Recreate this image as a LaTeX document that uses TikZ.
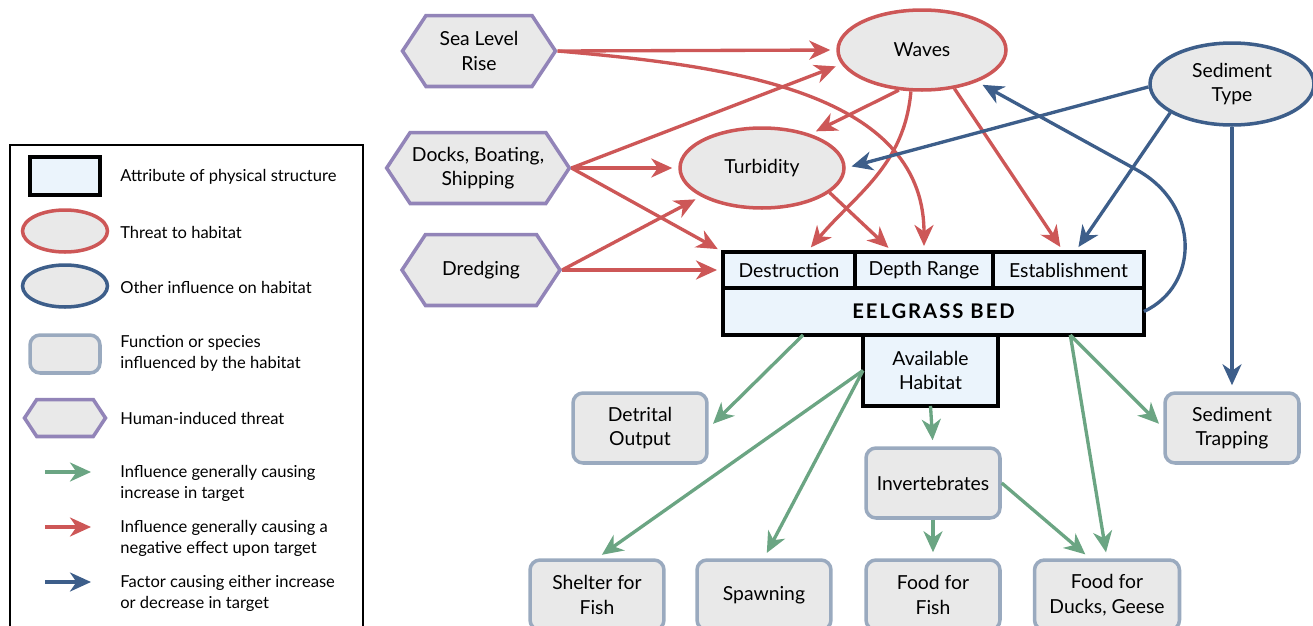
\documentclass[tikz,border=0pt]{standalone}
\usepackage{fontspec}
\setmainfont{Lato}
\usetikzlibrary{positioning, arrows.meta, calc, shapes.geometric, shapes.symbols}

\definecolor{threatred}{HTML}{CD5757}
\definecolor{otherblue}{HTML}{3D5E8A}
\definecolor{gaingreen}{HTML}{6BA583}
\definecolor{humanpurple}{HTML}{9284B8}
\definecolor{nodegray}{HTML}{E9E9E9}
\definecolor{attrblue}{HTML}{EBF4FC}
\definecolor{funcedge}{HTML}{9AAABF}

\newcommand{\labelfont}{\fontsize{11}{14}\selectfont}
\newcommand{\keyfont}{\fontsize{9.4}{12}\selectfont}
\newcommand{\bedfont}{\fontsize{11.5}{14}\selectfont\bfseries\addfontfeatures{LetterSpace=10}}

\tikzset{
  threat/.style={ellipse, draw=threatred, line width=2pt, fill=nodegray,
    minimum width=33.6mm, minimum height=16mm, align=center, font=\labelfont},
  other/.style={threat, draw=otherblue, minimum width=32.8mm, minimum height=16.4mm},
  human/.style={signal, signal to=east and west, signal pointer angle=113,
    draw=humanpurple, line width=2pt, fill=nodegray, minimum height=14.2mm,
    inner sep=1pt, align=center, font=\labelfont},
  attr/.style={rectangle, draw=black, line width=2.3pt, fill=attrblue,
    minimum height=7.2mm, inner sep=1pt, outer sep=0pt, align=center, font=\labelfont},
  func/.style={rectangle, rounded corners=2mm, draw=funcedge, line width=2pt,
    fill=nodegray, minimum width=26.8mm, minimum height=14mm, align=center, font=\labelfont},
  link/.style={line width=1.9pt, shorten >=1.2mm,
    -{Stealth[length=4.2mm, width=3.8mm, inset=1.3mm]}},
  neg/.style={link, draw=threatred, color=threatred},
  mixed/.style={link, draw=otherblue, color=otherblue},
  gain/.style={link, draw=gaingreen, color=gaingreen},
  keytext/.style={anchor=west, align=left, inner sep=0pt, font=\keyfont}
}

\begin{document}
\begin{tikzpicture}[x=0.02cm, y=-0.02cm]
\useasboundingbox (0,0) rectangle (1313,626);

% Human-induced threats
\node[human, minimum width=30.6mm] (sealevel) at (479,51) {Sea Level\\Rise};
\node[human, minimum width=33.6mm] (docks) at (478,168) {Docks, Boating,\\Shipping};
\node[human, minimum width=31.6mm] (dredging) at (481,270) {Dredging};

% Threats and other influence
\node[threat] (waves) at (922,50) {Waves};
\node[threat, minimum width=32.8mm] (turbidity) at (762,168) {Turbidity};
\node[other] (sediment) at (1232,84) {Sediment\\Type};

% Eelgrass bed
\node[attr, minimum width=26.4mm] (destruction) at (789,270) {Destruction};
\node[attr, minimum width=27.6mm] (depth) at (924,270) {Depth Range};
\node[attr, minimum width=30.2mm] (establish) at (1068.5,270) {Establishment};
\node[attr, minimum width=84.2mm, minimum height=9.4mm, font=\bedfont] (bed) at (933.5,311.5) {EELGRASS BED};
\node[attr, minimum width=27mm, minimum height=14.2mm] (habitat) at (930.5,370.5) {Available\\Habitat};

% Functions and species
\node[func] (detrital) at (640,428) {Detrital\\Output};
\node[func] (trapping) at (1232,428) {Sediment\\Trapping};
\node[func] (invert) at (933,483) {Invertebrates};
\node[func] (shelter) at (597,595) {Shelter for\\Fish};
\node[func] (spawning) at (764,595) {Spawning};
\node[func] (foodfish) at (933,595) {Food for\\Fish};
\node[func, minimum width=29mm] (ducks) at (1107,595) {Food for\\Ducks, Geese};

% Negative influences
\draw[neg] (sealevel.east) -- (waves.west);
\draw[neg] (sealevel.east) to[out=-5, in=90] (depth.north);
\draw[neg] (docks.east) -- (waves.190);
\draw[neg] (docks.east) -- (turbidity.west);
\draw[neg] (docks.east) -- (destruction.north west);
\draw[neg] (dredging.east) -- (turbidity.205);
\draw[neg] (dredging.east) -- (destruction.west);
\draw[neg] (waves.240) -- (turbidity.35);
\draw[neg] (waves.255) to[out=-95, in=50] (destruction.45);
\draw[neg] (waves.-50) -- (establish.105);
\draw[neg] (turbidity.-20) -- (depth.150);

% Other influences
\draw[mixed] (sediment.182) -- (turbidity.east);
\draw[mixed] (sediment.205) -- (establish.70);
\draw[mixed] (sediment.south) -- (trapping.north);
\draw[mixed] (bed.east) .. controls (1200,285) and (1200,205) .. (1137,170) -- (waves.-30);

% Positive influences
\draw[gain] ($(bed.south west)!0.19!(bed.south east)$) -- (detrital.east);
\draw[gain] ($(bed.south west)!0.825!(bed.south east)$) -- (trapping.west);
\draw[gain] ($(bed.south west)!0.825!(bed.south east)$) -- (ducks.north);
\draw[gain] (habitat.west) -- (shelter.north);
\draw[gain] (habitat.west) -- (spawning.north);
\draw[gain] (habitat.south) -- (invert.north);
\draw[gain] (invert.east) -- (ducks.115);
\draw[gain] (invert.south) -- (foodfish.north);

% Legend
\draw[line width=0.8pt] (10,145) rectangle (363,660);
\node[attr, minimum width=14mm, minimum height=7.6mm] (keyattr) at (65,176) {};
\node[threat, minimum width=17mm, minimum height=8.4mm] (keythreat) at (65,231) {};
\node[other, minimum width=17mm, minimum height=8.4mm] (keyother) at (65,286) {};
\node[func, minimum width=14mm, minimum height=7.6mm] (keyfunc) at (65,354) {};
\node[human, minimum width=16.2mm, minimum height=7.4mm] (keyhuman) at (65,418) {};
\coordinate (keygainA) at (45,472);
\coordinate (keygainB) at (97,472);
\coordinate (keynegA) at (45,527);
\coordinate (keynegB) at (97,527);
\coordinate (keymixA) at (45,582);
\coordinate (keymixB) at (97,582);
\draw[gain] (keygainA) -- (keygainB);
\draw[neg] (keynegA) -- (keynegB);
\draw[mixed] (keymixA) -- (keymixB);
\node[keytext] at (120,177) {Attribute of physical structure};
\node[keytext] at (120,232) {Threat to habitat};
\node[keytext] at (120,287) {Other influence on habitat};
\node[keytext] at (120,353) {Function or species\\influenced by the habitat};
\node[keytext] at (120,418) {Human-induced threat};
\node[keytext] at (120,483) {Influence generally causing\\increase in target};
\node[keytext] at (120,538) {Influence generally causing a\\negative effect upon target};
\node[keytext] at (120,593) {Factor causing either increase\\or decrease in target};
\end{tikzpicture}
\end{document}
